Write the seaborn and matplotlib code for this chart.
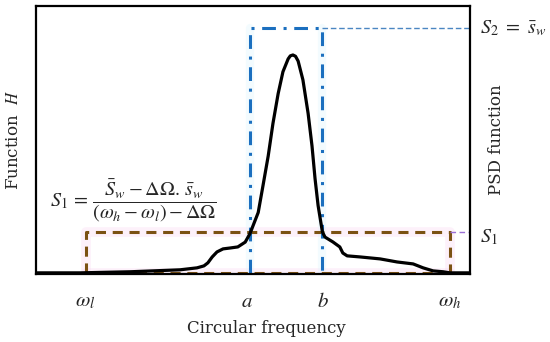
import matplotlib
matplotlib.use('Agg')
import matplotlib.pyplot as plt
import seaborn as sns
import pandas as pd

# PSD curve (x: 0-100 frequency span, y: peak = 1)
freq = [0.0, 10.1, 21.7, 33.2, 37.1, 38.7, 39.6, 40.6, 41.7, 43.1, 44.7, 46.5,
        48.2, 49.3, 51.2, 52.3, 53.5, 54.6, 55.8, 56.9, 58.1, 58.6, 59.2,
        59.8, 60.4, 61.5, 62.7, 63.6, 64.3, 65.0, 66.0, 66.6, 68.4, 70.0,
        70.7, 71.7, 74.7, 79.3, 83.2, 86.9, 89.2, 91.5, 93.8, 95.4, 100.0]
psd = [0.0, 0.0, 0.005, 0.014, 0.023, 0.032, 0.046, 0.073, 0.096, 0.110, 0.114, 0.119,
       0.141, 0.180, 0.277, 0.400, 0.536, 0.686, 0.823, 0.923, 0.982, 0.996, 1.0,
       0.994, 0.972, 0.886, 0.732, 0.582, 0.432, 0.309, 0.187, 0.164, 0.142, 0.119,
       0.091, 0.078, 0.073, 0.064, 0.050, 0.041, 0.023, 0.009, 0.005, 0.0, 0.0]

# band limits and levels
w_l, a, b, w_h = 11.5, 49.3, 66.0, 95.4
S1 = 0.187
S2 = 1.123
tick_pos = [11.3, 48.6, 66.1, 95.4]
tick_labels = [r'$\omega_l$', r'$a$', r'$b$', r'$\omega_h$']

sns.set_style('white')
plt.rcParams['font.family'] = ['DejaVu Serif']
plt.rcParams['mathtext.fontset'] = 'stix'

fig = plt.figure(figsize=(5.5, 3.42), dpi=100)
ax = fig.add_axes([0.0655, 0.199, 0.789, 0.7836])

df = pd.DataFrame({'f': freq, 'psd': psd})

# faint halos behind the rectangles
ax.plot([w_l, w_l, w_h, w_h], [0, S1, S1, 0], color='#f9d2f0', lw=7, alpha=0.3, zorder=1)
ax.plot([w_l, w_h], [0, 0], color='#f9d2f0', lw=7, alpha=0.3, zorder=1)
ax.plot([a, a], [0, S2], color='#d3f3fc', lw=6, alpha=0.25, zorder=1)
ax.plot([b, b], [0, S2], color='#d3f3fc', lw=6, alpha=0.25, zorder=1)

# S1 rectangle (brown dashed)
brown_ls = (0, (3.3, 2.2))
ax.plot([w_l, w_l, w_h, w_h], [0, S1, S1, 0], color='#7b5213', lw=2.2,
        ls=brown_ls, zorder=2)
ax.plot([w_l, w_h], [0, 0], color='#7b5213', lw=2.2, ls=brown_ls, zorder=2)
ax.plot([w_h, 100], [S1, S1], color='#9b6fd6', lw=1, ls=(0, (4, 2.5)), zorder=2)

# S2 band (blue dash-dot)
ax.plot([a, a, b, b], [0, S2, S2, 0], color='#1b6fbf', lw=2.2,
        ls=(0, (4.5, 2.5, 1, 2.5)), zorder=2)
ax.plot([b, 100], [S2, S2], color='#4b86c2', lw=1, ls=(0, (4, 2)), zorder=2)

sns.lineplot(data=df, x='f', y='psd', color='black', lw=2.3, ax=ax, zorder=3,
             sort=False)

ax.set_xlim(0, 100)
ax.set_ylim(-0.005, 1.225)
ax.set_xticks(tick_pos)
ax.set_xticklabels(tick_labels, fontsize=15)
ax.tick_params(axis='x', length=0, pad=13)
ax.set_yticks([])
ax.set_xlabel('Circular frequency', fontsize=12, labelpad=6)
ax.xaxis.set_label_coords(0.53, -0.17)
ax.set_ylabel(r'Function  $H$', fontsize=12, labelpad=10)

for sp in ax.spines.values():
    sp.set_color('black')
    sp.set_linewidth(1.6)

ax.text(1.022, (S2 + 0.005) / 1.23, r'$S_2\ =\ \bar{s}_w$', transform=ax.transAxes,
        fontsize=14.5, va='center', ha='left')
ax.text(1.022, (S1 - 0.02) / 1.23, r'$S_1$', transform=ax.transAxes,
        fontsize=14.5, va='center', ha='left')
ax.text(1.06, 0.5, 'PSD function', transform=ax.transAxes, rotation=90,
        fontsize=12, va='center', ha='center')
ax.text(0.225, 0.272,
        r'$S_1\,=\,\dfrac{\bar{S}_w - \Delta\Omega.\,\bar{s}_w}{(\omega_h - \omega_l) - \Delta\Omega}$',
        transform=ax.transAxes, fontsize=14.5, va='center', ha='center')

fig.savefig('out.png', dpi=100)
